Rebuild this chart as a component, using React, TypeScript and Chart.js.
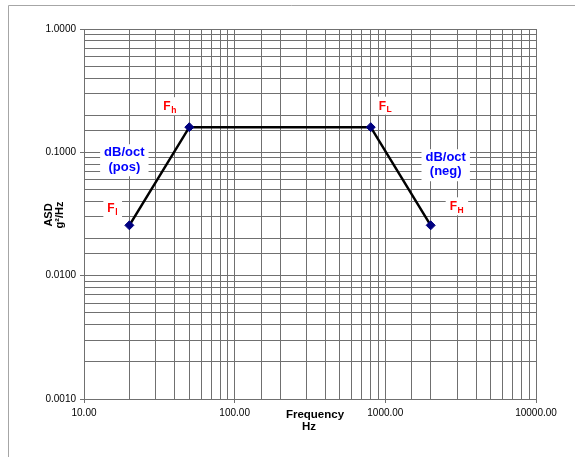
import React, { useEffect, useRef } from 'react';
import { Chart, registerables } from 'chart.js';

Chart.register(...registerables);

// ---- data ----
const frequencies: number[] = [20, 50, 800, 2000];
const asdValues: number[] = [0.0256, 0.16, 0.16, 0.0256];
const pointSubscripts: string[] = ['l', 'h', 'L', 'H'];
const slopeLabelTop: string[] = ['dB/oct', 'dB/oct'];
const slopeLabelBottom: string[] = ['(pos)', '(neg)'];
const xRange: number[] = [10, 10000];
const yRange: number[] = [0.001, 1];
const xTitle: string[] = ['Frequency', 'Hz'];
const yTitle: string[] = ['ASD', 'g\u00B2/Hz'];

const FONT = "'Liberation Sans', Arial, Helvetica, sans-serif";
const GRID = '#707070';

const isPow10 = (v: number) => {
  const l = Math.log10(v);
  return Math.abs(l - Math.round(l)) < 1e-6;
};

const overlayPlugin = {
  id: 'overlay',
  beforeDraw(chart: any) {
    const ctx = chart.ctx;
    ctx.save();
    ctx.fillStyle = '#ffffff';
    ctx.fillRect(0, 0, chart.width, chart.height);
    ctx.strokeStyle = '#a6a6a6';
    ctx.lineWidth = 1;
    ctx.beginPath();
    ctx.moveTo(8.5, chart.height);
    ctx.lineTo(8.5, 5.5);
    ctx.lineTo(chart.width, 5.5);
    ctx.stroke();
    ctx.restore();
  },
  beforeDatasetsDraw(chart: any) {
    const ctx = chart.ctx;
    const pts = chart.getDatasetMeta(0).data;
    ctx.save();
    // point labels F with subscripts
    const offs = [
      [-22, -13],
      [-26, -17],
      [8, -17.5],
      [19, -15],
    ];
    pts.forEach((p: any, i: number) => {
      const x = p.x + offs[i][0];
      const y = p.y + offs[i][1];
      ctx.font = `bold 12px ${FONT}`;
      const wF = ctx.measureText('F').width;
      ctx.font = `bold 8.5px ${FONT}`;
      const wS = ctx.measureText(pointSubscripts[i]).width;
      ctx.fillStyle = '#ffffff';
      ctx.fillRect(x - 4, y - 13, wF + wS + 9, 18);
      ctx.fillStyle = '#ff0000';
      ctx.textBaseline = 'alphabetic';
      ctx.textAlign = 'left';
      ctx.font = `bold 12px ${FONT}`;
      ctx.fillText('F', x, y);
      ctx.font = `bold 8.5px ${FONT}`;
      ctx.fillText(pointSubscripts[i], x + wF + 0.5, y + 2.5);
    });
    // slope labels
    const slopeOffs = [
      [-35, -24, -9],
      [45, -19, -4.5],
    ];
    for (let s = 0; s < 2; s++) {
      const a = pts[s * 2];
      const b = pts[s * 2 + 1];
      const mx = (a.x + b.x) / 2 + slopeOffs[s][0];
      const my = (a.y + b.y) / 2;
      ctx.font = `bold 13px ${FONT}`;
      const w = Math.max(
        ctx.measureText(slopeLabelTop[s]).width,
        ctx.measureText(slopeLabelBottom[s]).width
      );
      ctx.fillStyle = '#ffffff';
      ctx.fillRect(mx - w / 2 - 4, my + slopeOffs[s][1] - 8, w + 8, 32);
      ctx.fillStyle = '#0000ff';
      ctx.textAlign = 'center';
      ctx.textBaseline = 'middle';
      ctx.fillText(slopeLabelTop[s], mx, my + slopeOffs[s][1]);
      ctx.fillText(slopeLabelBottom[s], mx, my + slopeOffs[s][2]);
    }
    ctx.restore();
  },
  afterDraw(chart: any) {
    const ctx = chart.ctx;
    const area = chart.chartArea;
    ctx.save();
    ctx.fillStyle = '#000000';
    ctx.textAlign = 'center';
    ctx.textBaseline = 'alphabetic';
    // x title
    const cx = (area.left + area.right) / 2;
    ctx.font = `bold 11.5px ${FONT}`;
    ctx.fillText(xTitle[0], cx + 5, area.bottom + 18.5);
    ctx.fillText(xTitle[1], cx - 1, area.bottom + 31);
    // y title (rotated)
    const cy = (area.top + area.bottom) / 2 + 1;
    ctx.translate(0, cy);
    ctx.rotate(-Math.PI / 2);
    ctx.font = `bold 11px ${FONT}`;
    ctx.textBaseline = 'middle';
    ctx.fillText(yTitle[0], 0, 48.5);
    ctx.fillText(yTitle[1], 0, 60);
    ctx.restore();
  },
};

export default function App() {
  const canvasRef = useRef<HTMLCanvasElement | null>(null);

  useEffect(() => {
    const canvas = canvasRef.current;
    if (!canvas) return;
    const chart = new Chart(canvas, {
      type: 'line',
      data: {
        datasets: [
          {
            data: frequencies.map((f, i) => ({ x: f, y: asdValues[i] })),
            borderColor: '#000000',
            borderWidth: 2.5,
            tension: 0,
            pointStyle: 'rectRot',
            pointRadius: 4.5,
            pointBackgroundColor: '#000080',
            pointBorderColor: '#000080',
            pointBorderWidth: 1,
          },
        ],
      },
      options: {
        responsive: false,
        animation: false,
        devicePixelRatio: 1,
        layout: { padding: { left: 0, top: 29, right: 39, bottom: 0 } },
        plugins: {
          legend: { display: false },
          tooltip: { enabled: false },
        },
        scales: {
          x: {
            type: 'logarithmic',
            min: xRange[0],
            max: xRange[1],
            afterFit: (scale: any) => {
              scale.height = 58;
            },
            border: { display: true, color: GRID, width: 1 },
            grid: {
              color: GRID,
              lineWidth: 1,
              drawTicks: true,
              tickLength: 4,
              tickColor: (c: any) => (c.tick && isPow10(c.tick.value) ? GRID : 'rgba(0,0,0,0)'),
            },
            ticks: {
              autoSkip: false,
              maxRotation: 0,
              minRotation: 0,
              padding: 4,
              color: '#000000',
              font: { family: FONT, size: 10 },
              callback: (v: any) => (isPow10(Number(v)) ? Number(v).toFixed(2) : ''),
            },
          },
          y: {
            type: 'logarithmic',
            min: yRange[0],
            max: yRange[1],
            afterFit: (scale: any) => {
              scale.width = 84;
            },
            border: { display: true, color: GRID, width: 1 },
            grid: {
              color: GRID,
              lineWidth: 1,
              drawTicks: true,
              tickLength: 4,
              tickColor: (c: any) => (c.tick && isPow10(c.tick.value) ? GRID : 'rgba(0,0,0,0)'),
            },
            ticks: {
              autoSkip: false,
              padding: 4,
              color: '#000000',
              font: { family: FONT, size: 10 },
              callback: (v: any) => (isPow10(Number(v)) ? Number(v).toFixed(4) : ''),
            },
          },
        },
      },
      plugins: [overlayPlugin],
    } as any);
    return () => chart.destroy();
  }, []);

  return (
    <div style={{ position: 'fixed', left: 0, top: 0, width: 575, height: 457 }}>
      <canvas ref={canvasRef} width={575} height={457} style={{ display: 'block' }} />
    </div>
  );
}
